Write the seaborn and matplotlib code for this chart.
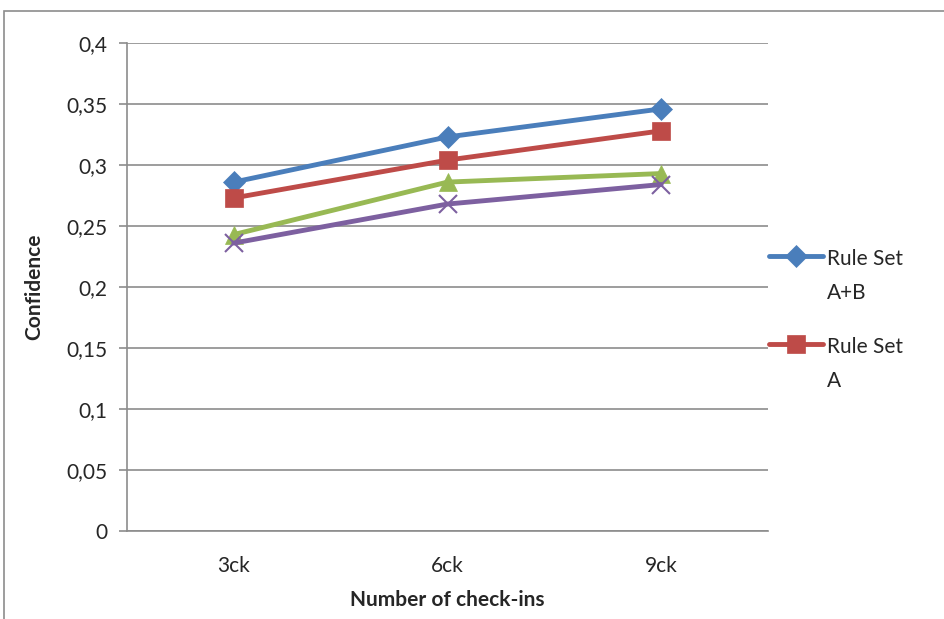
import pandas as pd
import matplotlib
matplotlib.use("Agg")
import matplotlib.pyplot as plt
from matplotlib.patches import Rectangle
from matplotlib.ticker import FuncFormatter, MultipleLocator
import seaborn as sns

categories = ["3ck", "6ck", "9ck"]
rule_set_ab = [0.286, 0.323, 0.346]
rule_set_a = [0.273, 0.304, 0.328]
rule_set_b = [0.243, 0.286, 0.293]
rule_set_c = [0.236, 0.268, 0.284]

series = {
    "Rule Set\nA+B": rule_set_ab,
    "Rule Set\nA": rule_set_a,
    "Rule Set\nB": rule_set_b,
    "Rule Set\nC": rule_set_c,
}
colors = ["#4A7EBB", "#BE4B48", "#98B954", "#7D60A0"]
markers = ["D", "s", "^", "x"]
sizes = [11, 13, 13, 13]

sns.set_theme(style="white")
plt.rcParams["font.family"] = ["Lato", "DejaVu Sans"]

fig = plt.figure(figsize=(9.44, 6.19), dpi=100)
ax = fig.add_axes([127 / 944, 1 - 531 / 619, (768 - 127) / 944, (531 - 43) / 619])

for (name, values), c, m, ms in zip(series.items(), colors, markers, sizes):
    df = pd.DataFrame({"ck": categories, "conf": values})
    sns.lineplot(data=df, x="ck", y="conf", ax=ax, color=c, linewidth=3.5,
                 marker=m, markersize=ms, markeredgecolor=c,
                 markeredgewidth=1.5 if m == "x" else 0.5, label=name)
handles, labels = ax.get_legend_handles_labels()
ax.get_legend().remove()

ax.set_ylim(0, 0.4)
ax.set_xlim(-0.5, 2.5)
ax.yaxis.set_major_locator(MultipleLocator(0.05))
ax.yaxis.set_major_formatter(FuncFormatter(lambda v, p: f"{v:.2f}".rstrip("0").rstrip(".").replace(".", ",") if v else "0"))
ax.grid(axis="y", color="#8c8c8c", linewidth=1.2)
ax.set_axisbelow(True)

for s in ["top", "right"]:
    ax.spines[s].set_visible(False)
for s in ["left", "bottom"]:
    ax.spines[s].set_color("#8c8c8c")
    ax.spines[s].set_linewidth(1.2)

ax.set_xticks(range(len(categories)))
ax.set_xticklabels(categories)
ax.set_xticks([-0.5, 0.5, 1.5, 2.5], minor=True)
ax.tick_params(axis="x", which="major", length=0, pad=18, labelsize=15)
ax.tick_params(axis="x", which="minor", length=6, color="#8c8c8c", width=1.2, direction="out")
ax.tick_params(axis="y", length=6, color="#8c8c8c", width=1.2, direction="out", left=True, labelsize=15, pad=8)

ax.set_xlabel("Number of check-ins", fontsize=15, fontweight="bold", labelpad=10)
ax.set_ylabel("Confidence", fontsize=15, fontweight="bold", labelpad=16)

leg = fig.legend(handles[:2], labels[:2], loc="upper left", bbox_to_anchor=(769 / 944, 1 - 249 / 619),
                 frameon=False, fontsize=15, handlelength=2.6, handletextpad=0.2,
                 labelspacing=1.65, borderpad=0, borderaxespad=0)
for t in leg.get_texts():
    t.set_linespacing(1.85)
# align each handle with the first line of its label, like the reference
for col in leg._legend_handle_box.get_children():
    for row in col.get_children():
        row.align = "top"

fig.patches.append(Rectangle((4 / 944, -0.5), 2, 1.5 - 11 / 619, transform=fig.transFigure,
                             fill=False, edgecolor="#8c8c8c", linewidth=1.2))

fig.savefig("out.png", dpi=100)
